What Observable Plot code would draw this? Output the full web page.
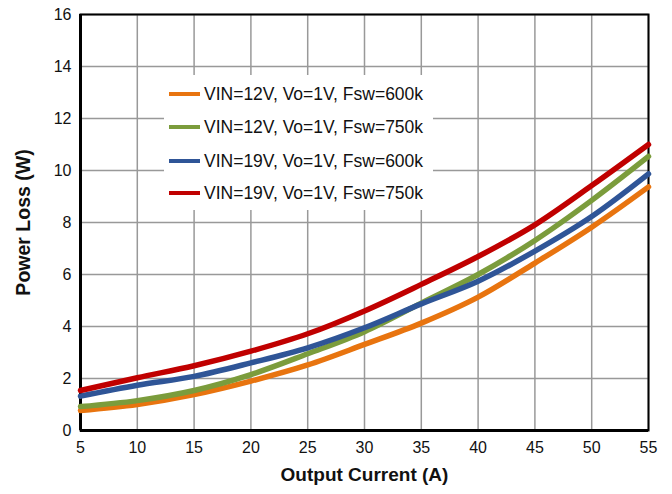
<!DOCTYPE html>
<html>
<head>
<meta charset="utf-8">
<script src="https://cdn.jsdelivr.net/npm/d3@7"></script>
<script src="https://cdn.jsdelivr.net/npm/@observablehq/plot@0.6"></script>
<style>
  body { margin: 0; background: #fff; }
  #wrap { position: relative; width: 672px; height: 494px; font-family: "Liberation Sans", Arial, sans-serif; }
  #legend { position: absolute; left: 164px; top: 75px; width: 269px; height: 135px; background: #fff; }
  .row { position: absolute; left: 5px; height: 20px; display: flex; align-items: center; font-size: 17.5px; line-height: 20px; color: #111; white-space: nowrap; }
  .sw { width: 31px; height: 4px; margin-right: 4px; }
</style>
</head>
<body>
<div id="wrap"><div id="legend"></div></div>
<script>
const current = [5, 10, 15, 20, 25, 30, 35, 40, 45, 50, 55];
const seriesNames = [
  "VIN=12V, Vo=1V, Fsw=600k",
  "VIN=12V, Vo=1V, Fsw=750k",
  "VIN=19V, Vo=1V, Fsw=600k",
  "VIN=19V, Vo=1V, Fsw=750k"
];
const colors = ["#E8740F", "#7B9C3C", "#2F5597", "#C00000"];
const loss12v600 = [0.77, 1.0, 1.38, 1.9, 2.52, 3.31, 4.13, 5.13, 6.44, 7.82, 9.37];
const loss12v750 = [0.92, 1.15, 1.54, 2.15, 2.95, 3.8, 4.9, 6.0, 7.31, 8.85, 10.54];
const loss19v600 = [1.32, 1.74, 2.08, 2.6, 3.18, 3.95, 4.87, 5.74, 6.9, 8.23, 9.87];
const loss19v750 = [1.54, 2.03, 2.49, 3.05, 3.72, 4.6, 5.62, 6.69, 7.91, 9.42, 11.0];
const xTicks = [5, 10, 15, 20, 25, 30, 35, 40, 45, 50, 55];
const yTicks = [0, 2, 4, 6, 8, 10, 12, 14, 16];

const allSeries = [loss12v600, loss12v750, loss19v600, loss19v750];
const data = allSeries.flatMap((vals, i) => vals.map((v, j) => ({x: current[j], y: v, s: seriesNames[i]})));

const chart = Plot.plot({
  width: 672,
  height: 494,
  marginLeft: 80,
  marginRight: 24,
  marginTop: 14,
  marginBottom: 64,
  style: {fontFamily: "'Liberation Sans', Arial, sans-serif", fontSize: "16px", color: "#111", background: "#fff"},
  x: {domain: [5, 55]},
  y: {domain: [0, 16]},
  color: {domain: seriesNames, range: colors},
  marks: [
    Plot.gridX(xTicks, {stroke: "#999", strokeOpacity: 1, strokeWidth: 1.5}),
    Plot.gridY(yTicks, {stroke: "#999", strokeOpacity: 1, strokeWidth: 1.5}),
    Plot.frame({stroke: "#000", strokeWidth: 2}),
    Plot.ruleX([5], {stroke: "#000", strokeWidth: 3}),
    Plot.ruleY([0], {stroke: "#000", strokeWidth: 3}),
    Plot.axisX(xTicks, {tickSize: 0, tickPadding: 11, label: null, fontSize: 16}),
    Plot.axisY(yTicks, {tickSize: 0, tickPadding: 9, label: null, fontSize: 16}),
    Plot.text(["Output Current (A)"], {frameAnchor: "bottom", dy: 50, fontWeight: "bold", fontSize: 19}),
    Plot.text(["Power Loss (W)"], {frameAnchor: "left", textAnchor: "middle", dx: -57, rotate: -90, fontWeight: "bold", fontSize: 19.5}),
    Plot.line(data, {x: "x", y: "y", z: "s", stroke: "s", strokeWidth: 5.5, curve: "monotone-x"})
  ]
});
document.getElementById("wrap").prepend(chart);

const legend = document.getElementById("legend");
const rowTops = [9, 42, 76, 108];
seriesNames.forEach((name, i) => {
  const row = document.createElement("div");
  row.className = "row";
  row.style.top = rowTops[i] + "px";
  const sw = document.createElement("div");
  sw.className = "sw";
  sw.style.background = colors[i];
  const t = document.createElement("span");
  t.textContent = name;
  row.append(sw, t);
  legend.append(row);
});
</script>
</body>
</html>
